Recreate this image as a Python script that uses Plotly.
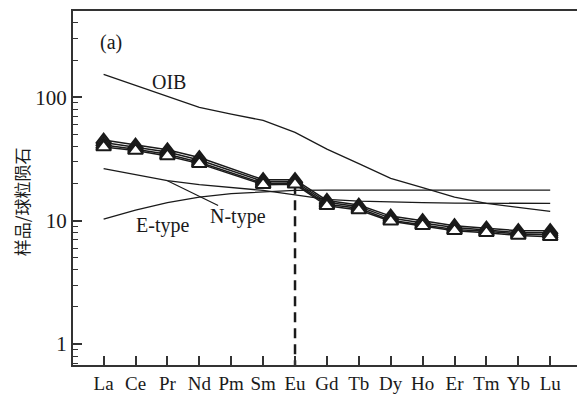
import plotly.graph_objects as go
import numpy as np

# REE categories
elements = ["La", "Ce", "Pr", "Nd", "Pm", "Sm", "Eu", "Gd", "Tb", "Dy", "Ho", "Er", "Tm", "Yb", "Lu"]
x_all = list(range(len(elements)))
# samples have no Pm value
x_samples = [i for i, e in enumerate(elements) if e != "Pm"]

# sample chondrite-normalized values (La..Lu without Pm)
sample_1 = [45.0, 41.0, 37.5, 32.5, 21.5, 21.5, 14.6, 13.4, 10.9, 10.0, 9.1, 8.7, 8.3, 8.3]
sample_2 = [43.0, 39.5, 36.0, 31.0, 20.8, 20.8, 14.1, 13.0, 10.5, 9.6, 8.8, 8.4, 8.0, 8.0]
sample_3 = [41.0, 38.0, 34.5, 29.8, 20.1, 20.2, 13.6, 12.6, 10.1, 9.3, 8.5, 8.2, 7.8, 7.7]
sample_4 = [39.5, 37.0, 33.5, 29.0, 19.6, 19.7, 13.2, 12.2, 9.9, 9.1, 8.3, 8.0, 7.6, 7.4]
samples = [sample_1, sample_2, sample_3, sample_4]

# reference patterns (La..Lu incl. Pm)
oib = [153, 125, 102, 83, 73, 65, 52, 38, 29, 22, 18.5, 15.5, 13.8, 12.8, 11.9]
e_type = [26.4, 23.6, 21.1, 19.6, 18.6, 17.6, 16.2, 14.9, 14.4, 14.1, 14.0, 13.9, 13.9, 13.8, 13.8]
n_type = [10.3, 12.2, 14.0, 15.5, 16.6, 17.2, 17.6, 17.7, 17.7, 17.7, 17.7, 17.7, 17.7, 17.7, 17.7]

# leader line for the N-type label (data coordinates)
leader_x = [2.0, 3.59]
leader_y = [21.1, 13.3]

y_ticks = [1, 10, 100]
y_range_log = [-0.169, 2.699]
x_range = [-0.96, 14.84]

ink = "#1a1a1a"
serif = "Liberation Serif"

fig = go.Figure()

for ref in [oib, e_type, n_type]:
    fig.add_trace(go.Scatter(x=x_all, y=ref, mode="lines",
                             line=dict(color=ink, width=1.3), showlegend=False,
                             hoverinfo="skip"))

fig.add_trace(go.Scatter(x=leader_x, y=leader_y, mode="lines",
                         line=dict(color=ink, width=1.2), showlegend=False,
                         hoverinfo="skip"))

# Eu dashed line from Eu sample value down to the axis
eu_idx = x_samples.index(elements.index("Eu"))
eu_val = samples[-1][eu_idx]
fig.add_trace(go.Scatter(x=[elements.index("Eu")] * 2,
                         y=[eu_val, 10 ** y_range_log[0]], mode="lines",
                         line=dict(color=ink, width=2.5, dash="10px,6px"),
                         showlegend=False, hoverinfo="skip"))

for s in samples:
    fig.add_trace(go.Scatter(x=x_samples, y=s, mode="lines+markers",
                             line=dict(color=ink, width=1.5),
                             marker=dict(symbol="triangle-up", size=13,
                                         color="white",
                                         line=dict(color=ink, width=2)),
                             showlegend=False))

annotations = [
    dict(x=0.23, y=np.log10(277), text="(a)"),
    dict(x=2.05, y=np.log10(132), text="OIB"),
    dict(x=1.86, y=np.log10(9.2), text="E-type"),
    dict(x=4.21, y=np.log10(10.9), text="N-type"),
]
for a in annotations:
    fig.add_annotation(x=a["x"], y=a["y"], text=a["text"], showarrow=False,
                       xref="x", yref="y", xanchor="center", yanchor="middle",
                       font=dict(family=serif, size=20, color=ink))

fig.add_annotation(x=(21 - 73) / 504, y=0.46, xref="paper", yref="paper",
                   text="样品/球粒陨石", textangle=-90, showarrow=False,
                   font=dict(family="Noto Sans CJK SC", size=17, color=ink),
                   xanchor="center", yanchor="middle")

fig.update_layout(
    width=577, height=394,
    margin=dict(l=73, r=0, t=11, b=26),
    paper_bgcolor="white", plot_bgcolor="white",
    font=dict(family=serif, color=ink),
    xaxis=dict(range=x_range, tickmode="array", tickvals=x_all, ticktext=elements,
               showgrid=False, zeroline=False, showline=True, linecolor="#333",
               linewidth=2, mirror=True, ticks="inside", ticklen=9, tickwidth=1.5,
               tickcolor="#333", tickfont=dict(family=serif, size=19, color=ink)),
    yaxis=dict(type="log", range=y_range_log, tickmode="array", tickvals=y_ticks,
               ticktext=[str(v) for v in y_ticks], showgrid=False, zeroline=False,
               showline=True, linecolor="#333", linewidth=2, ticks="inside",
               ticklen=9, tickwidth=1.5, tickcolor="#333",
               tickfont=dict(family=serif, size=21, color=ink),
               minor=dict(ticks="inside", ticklen=5, tickwidth=1.2, tickcolor="#333",
                          dtick="D1", showgrid=False)),
)

fig.write_html("out.html")
